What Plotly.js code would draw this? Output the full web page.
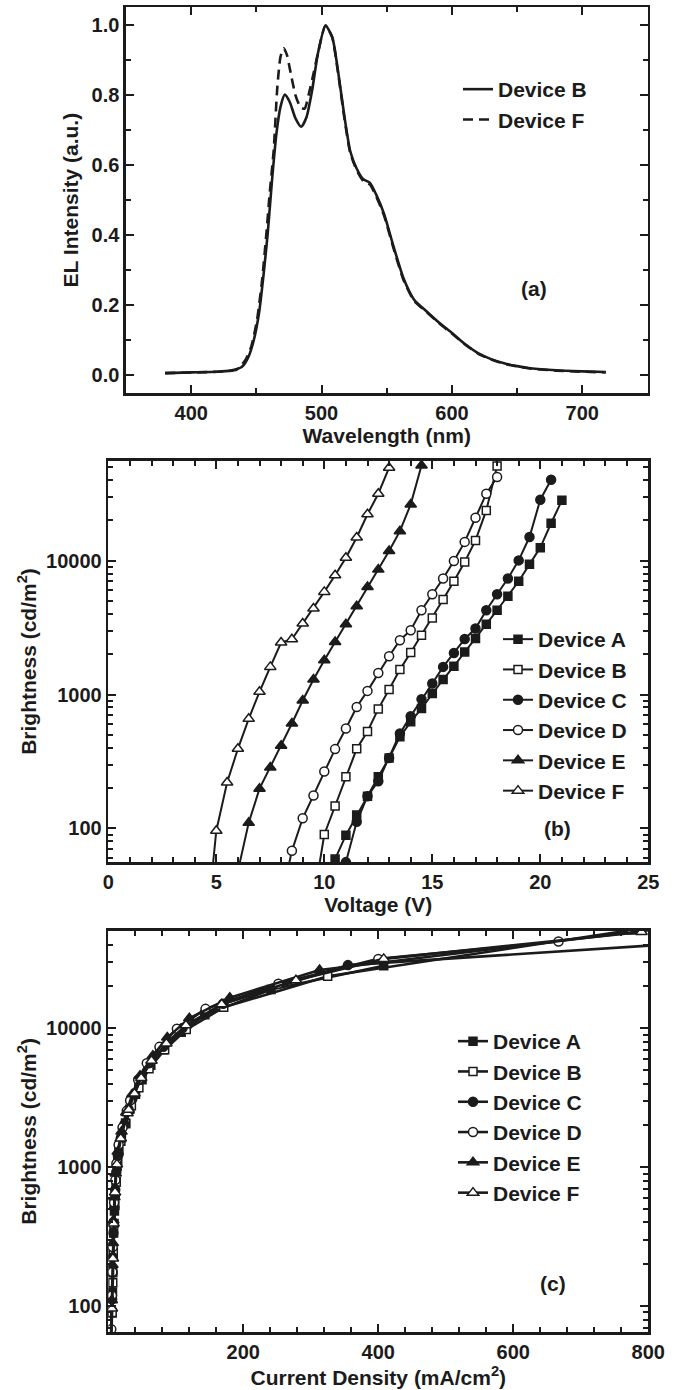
<!DOCTYPE html>
<html><head><meta charset="utf-8">
<script src="https://cdn.plot.ly/plotly-3.0.1.min.js"></script>
<style>html,body{margin:0;padding:0;background:#fff}#chart{width:674px;height:1390px}</style>
</head><body><div id="chart"></div>
<script>
// ---------- Panel (a): EL spectra ----------
const wlB = [380, 400, 420, 430, 439, 444, 448, 452, 455.6, 458.7, 462, 465.4, 468.5, 471.8, 475.6, 480, 484.4, 488.5, 492.8, 497.2, 503, 508.2, 513, 517.5, 522, 527, 532, 537, 542, 548, 555, 563, 571, 581, 590, 600, 610, 620, 630, 640, 650, 660, 680, 700, 718];
const elB = [0.005, 0.007, 0.009, 0.012, 0.023, 0.052, 0.099, 0.176, 0.29, 0.405, 0.557, 0.691, 0.767, 0.802, 0.781, 0.734, 0.71, 0.738, 0.815, 0.92, 1.0, 0.967, 0.86, 0.74, 0.64, 0.59, 0.56, 0.55, 0.515, 0.46, 0.37, 0.275, 0.215, 0.18, 0.15, 0.12, 0.088, 0.062, 0.045, 0.033, 0.025, 0.019, 0.013, 0.01, 0.008];
const wlF = [380, 420, 435, 441.5, 446, 450.5, 454.4, 457.7, 460.2, 463.3, 466, 468.5, 471, 473.5, 476, 480, 484, 487, 490, 494, 497.2, 503, 508.2, 513, 517.5, 522, 527, 532, 537, 542, 548, 555, 563, 571, 581, 590, 600, 610, 620, 630, 640, 650, 660, 680, 700, 718];
const elF = [0.005, 0.009, 0.015, 0.042, 0.08, 0.157, 0.271, 0.405, 0.519, 0.643, 0.82, 0.91, 0.935, 0.915, 0.87, 0.80, 0.765, 0.762, 0.80, 0.865, 0.92, 1.0, 0.965, 0.855, 0.735, 0.635, 0.585, 0.555, 0.545, 0.51, 0.455, 0.365, 0.27, 0.212, 0.178, 0.148, 0.118, 0.087, 0.061, 0.044, 0.032, 0.024, 0.018, 0.012, 0.009, 0.007];

// ---------- Panels (b) and (c): voltage, brightness, current density ----------
const devices = ['Device A', 'Device B', 'Device C', 'Device D', 'Device E', 'Device F'];

const voltA = [10.0, 10.5, 11.0, 11.5, 12.0, 12.5, 13.0, 13.5, 14.0, 14.5, 15.0, 15.5, 16.0, 16.5, 17.0, 17.5, 18.0, 18.5, 19.0, 19.5, 20.0, 20.5, 21.0];
const lumA  = [25, 59, 89, 126, 174, 243, 336, 483, 625, 786, 1017, 1294, 1626, 2080, 2617, 3350, 4258, 5420, 7013, 9380, 12500, 19000, 28200];
const curA  = [2.5, 4.7, 5.6, 6.2, 6.7, 7.2, 7.9, 9.1, 10.3, 11.7, 13.1, 15.7, 19.4, 25.6, 31.8, 40.3, 50, 63, 82, 108, 143, 241, 408];

const voltB = [9.5, 10.0, 10.5, 11.0, 11.5, 12.0, 12.5, 13.0, 13.5, 14.0, 14.5, 15.0, 15.5, 16.0, 16.5, 17.0, 17.5, 18.0];
const lumB  = [29, 90, 147, 243, 393, 530, 781, 1089, 1535, 2057, 2773, 3733, 5117, 7013, 9780, 14150, 23700, 51000];
const curB  = [2.7, 5.7, 6.6, 7.4, 8.5, 9.6, 11.8, 14.0, 18.6, 25.8, 34.2, 45.3, 60.3, 83.5, 115.5, 171, 325, 775];

const voltC = [10.5, 11.0, 11.5, 12.0, 12.5, 13.0, 13.5, 14.0, 14.5, 15.0, 15.5, 16.0, 16.5, 17.0, 17.5, 18.0, 18.5, 19.0, 19.5, 20.0, 20.5];
const lumC  = [20, 56, 112, 174, 225, 336, 512, 689, 923, 1208, 1608, 2042, 2600, 3110, 4258, 5610, 7350, 10040, 15000, 28500, 40200];
const curC  = [2.0, 4.3, 5.7, 6.4, 6.8, 7.5, 8.9, 10.3, 11.9, 14.2, 18.4, 24, 30, 35.6, 47.6, 61, 81.5, 110, 170, 355, 830];

const voltD = [8.0, 8.5, 9.0, 9.5, 10.0, 10.5, 11.0, 11.5, 12.0, 12.5, 13.0, 13.5, 14.0, 14.5, 15.0, 15.5, 16.0, 16.5, 17.0, 17.5, 18.0];
const lumD  = [29, 68, 119, 176, 266, 391, 557, 807, 1064, 1449, 1931, 2543, 3020, 4258, 5610, 7350, 9930, 13800, 20900, 31600, 42100];
const curD  = [2.5, 4.4, 5.4, 6.0, 6.5, 7.3, 8.6, 10.5, 12.0, 15.3, 21.1, 27.4, 32.3, 44.3, 57, 75.8, 101.6, 144, 252, 400, 667];

const voltE = [6.0, 6.5, 7.0, 7.5, 8.0, 8.5, 9.0, 9.5, 10.0, 10.5, 11.0, 11.5, 12.0, 12.5, 13.0, 13.5, 14.0, 14.5];
const lumE  = [48, 110, 198, 285, 414, 607, 902, 1294, 1803, 2472, 3350, 4560, 6350, 8570, 11800, 16600, 26300, 51400];
const curE  = [3.5, 5.2, 6.1, 6.6, 7.5, 9.0, 11.0, 14.0, 19.6, 26.7, 35.7, 47, 66, 87.4, 120, 180, 313, 810];

const voltF = [4.5, 5.0, 5.5, 6.0, 6.5, 7.0, 7.5, 8.0, 8.5, 9.0, 9.5, 10.0, 10.5, 11.0, 11.5, 12.0, 12.5, 13.0];
const lumF  = [15, 96, 220, 393, 658, 1047, 1608, 2445, 2588, 3390, 4385, 5840, 7770, 10500, 14870, 22200, 31600, 49400];
const curF  = [1.5, 5.4, 6.8, 7.9, 10, 12.7, 18.4, 28.5, 30.2, 38.8, 48.8, 64, 86, 115, 168, 278, 408, 790];

// minor tick positions of the logarithmic brightness axes
const logMinorTicks = [20, 30, 40, 50, 60, 70, 80, 90, 200, 300, 400, 500, 600, 700, 800, 900,
  2000, 3000, 4000, 5000, 6000, 7000, 8000, 9000, 20000, 30000, 40000, 50000];

// ---------- styling ----------
const INK = '#1b1b1b';
const FONT = 'Liberation Sans, Arial, Helvetica, sans-serif';
const deviceData = [
  {v: voltA, l: lumA, j: curA}, {v: voltB, l: lumB, j: curB}, {v: voltC, l: lumC, j: curC},
  {v: voltD, l: lumD, j: curD}, {v: voltE, l: lumE, j: curE}, {v: voltF, l: lumF, j: curF}
];
const markerStyle = [
  {symbol: 'square', color: INK, size: 8},
  {symbol: 'square', color: '#ffffff', size: 8},
  {symbol: 'circle', color: INK, size: 9},
  {symbol: 'circle', color: '#ffffff', size: 9},
  {symbol: 'triangle-up', color: INK, size: 10},
  {symbol: 'triangle-up', color: '#ffffff', size: 10}
];

const traces = [];
traces.push({x: wlB, y: elB, xaxis: 'x', yaxis: 'y', type: 'scatter', mode: 'lines', name: 'Device B',
  line: {color: INK, width: 2.6, shape: 'spline', smoothing: 0.6}, legend: 'legend'});
traces.push({x: wlF, y: elF, xaxis: 'x', yaxis: 'y', type: 'scatter', mode: 'lines', name: 'Device F',
  line: {color: INK, width: 2.6, dash: '10px,6px', shape: 'spline', smoothing: 0.6}, legend: 'legend'});

devices.forEach((name, i) => {
  const d = deviceData[i], m = markerStyle[i];
  traces.push({x: d.v, y: d.l, xaxis: 'x2', yaxis: 'y2', type: 'scatter', mode: 'lines+markers', name: name,
    legend: 'legend2',
    line: {color: INK, width: 2},
    marker: {symbol: m.symbol, color: m.color, size: m.size, line: {color: INK, width: 1.5}}});
});
devices.forEach((name, i) => {
  const d = deviceData[i], m = markerStyle[i];
  traces.push({x: d.j, y: d.l, xaxis: 'x3', yaxis: 'y3', type: 'scatter', mode: 'lines+markers', name: name,
    legend: 'legend3',
    line: {color: INK, width: 2.6},
    marker: {symbol: m.symbol, color: m.color, size: m.size, line: {color: INK, width: 1.5}}});
});

const W = 674, H = 1390;
const px = v => v / W, py = v => 1 - v / H;

const minorBase = {ticks: 'inside', ticklen: 5, tickwidth: 2, tickcolor: INK, showgrid: false};
const axisBase = {
  showline: true, linecolor: INK, linewidth: 2.6, mirror: 'ticks',
  ticks: 'inside', ticklen: 8, tickwidth: 2, tickcolor: INK,
  showgrid: false, zeroline: false,
  tickfont: {family: FONT, size: 20, color: INK, weight: 'bold'}
};
const titleFont = {family: FONT, size: 21, color: INK, weight: 'bold'};
const legendBase = {
  xanchor: 'left', yanchor: 'top', bgcolor: 'rgba(0,0,0,0)', borderwidth: 0,
  font: {family: FONT, size: 21, color: INK, weight: 'bold'}, tracegroupgap: 0
};
const labelBase = {xref: 'paper', yref: 'paper', xanchor: 'center', yanchor: 'middle', showarrow: false, font: titleFont};

const layout = {
  width: W, height: H, paper_bgcolor: '#ffffff', plot_bgcolor: '#ffffff',
  margin: {l: 0, r: 0, t: 0, b: 0},
  font: {family: FONT, color: INK, weight: 'bold'},
  xaxis: Object.assign({}, axisBase, {
    domain: [px(126), px(647.5)], anchor: 'y', range: [350, 750], tick0: 0, dtick: 100,
    minor: Object.assign({}, minorBase, {tick0: 0, dtick: 50}),
    title: {text: 'Wavelength (nm)', font: titleFont, standoff: 2}
  }),
  yaxis: Object.assign({}, axisBase, {
    domain: [py(393), py(7.3)], anchor: 'x', range: [-0.052, 1.052], tick0: 0, dtick: 0.2, tickformat: '.1f',
    minor: Object.assign({}, minorBase, {tick0: 0, dtick: 0.1}),
    title: {text: 'EL Intensity (a.u.)', font: titleFont, standoff: 8}
  }),
  xaxis2: Object.assign({}, axisBase, {
    domain: [px(108.3), px(648.3)], anchor: 'y2', range: [0, 25], tick0: 0, dtick: 5,
    minor: Object.assign({}, minorBase, {tick0: 0, dtick: 1}),
    title: {text: 'Voltage (V)', font: titleFont, standoff: 0}
  }),
  yaxis2: Object.assign({}, axisBase, {
    domain: [py(862), py(461)], anchor: 'x2', type: 'log', range: [1.749, 4.744], dtick: 1, tickformat: 'd',
    minor: Object.assign({}, minorBase, {tickmode: 'array', tickvals: logMinorTicks}),
    title: {text: 'Brightness (cd/m<sup>2</sup>)', font: titleFont, standoff: 4}
  }),
  xaxis3: Object.assign({}, axisBase, {
    domain: [px(108.3), px(648.3)], anchor: 'y3', range: [0, 800], tickmode: 'array', tickvals: [200, 400, 600, 800],
    minor: Object.assign({}, minorBase, {tickmode: 'linear', tick0: 0, dtick: 40}),
    title: {text: 'Current Density (mA/cm<sup>2</sup>)', font: titleFont, standoff: 8}
  }),
  yaxis3: Object.assign({}, axisBase, {
    domain: [py(1332.3), py(930.5)], anchor: 'x3', type: 'log', range: [1.811, 4.704], dtick: 1, tickformat: 'd',
    minor: Object.assign({}, minorBase, {tickmode: 'array', tickvals: logMinorTicks}),
    title: {text: 'Brightness (cd/m<sup>2</sup>)', font: titleFont, standoff: 4}
  }),
  legend: Object.assign({}, legendBase, {x: px(458), y: py(69)}),
  legend2: Object.assign({}, legendBase, {x: px(498), y: py(619)}),
  legend3: Object.assign({}, legendBase, {x: px(453), y: py(1021)}),
  annotations: [
    Object.assign({}, labelBase, {text: '(a)', x: px(534), y: py(288)}),
    Object.assign({}, labelBase, {text: '(b)', x: px(557), y: py(828)}),
    Object.assign({}, labelBase, {text: '(c)', x: px(553), y: py(1283)})
  ],
  showlegend: true
};

Plotly.newPlot('chart', traces, layout, {displayModeBar: false, staticPlot: true});
</script>
</body></html>
